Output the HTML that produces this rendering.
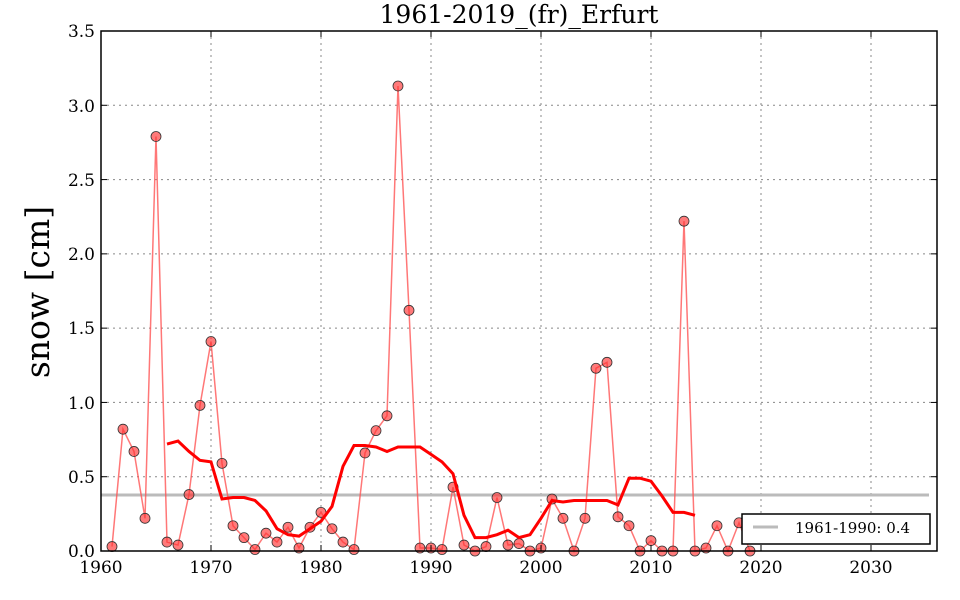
<!DOCTYPE html>
<html><head><meta charset="utf-8"><style>
html,body{margin:0;padding:0;background:#fff;width:960px;height:600px;overflow:hidden}
svg text{font-family:"DejaVu Serif","Liberation Serif",serif;fill:#000}
</style></head><body>
<svg id="s" width="960" height="600" xmlns="http://www.w3.org/2000/svg">
<rect width="960" height="600" fill="#fff"/>
<g id="grid" stroke="#888" stroke-width="1" stroke-dasharray="2,4"></g>
<g id="data"></g>
<rect x="101" y="31" width="836" height="520" fill="none" stroke="#000" stroke-width="1.5"/>
<g id="ticks" stroke="#000" stroke-width="1"></g>
<g font-size="17" text-anchor="end">
<text x="95" y="557">0.0</text><text x="95" y="483">0.5</text><text x="95" y="409">1.0</text>
<text x="95" y="334">1.5</text><text x="95" y="260">2.0</text><text x="95" y="186">2.5</text>
<text x="95" y="112">3.0</text><text x="95" y="37">3.5</text>
</g>
<g font-size="17" text-anchor="middle">
<text x="101" y="573">1960</text><text x="211" y="573">1970</text><text x="321" y="573">1980</text>
<text x="431" y="573">1990</text><text x="541" y="573">2000</text><text x="651" y="573">2010</text>
<text x="761" y="573">2020</text><text x="871" y="573">2030</text>
</g>
<text x="519" y="23" font-size="25" text-anchor="middle">1961-2019_(fr)_Erfurt</text>
<text transform="translate(49,292) rotate(-90)" font-size="33" text-anchor="middle">snow [cm]</text>
<rect x="742" y="514" width="188" height="30" fill="#fff" stroke="#000" stroke-width="1.5"/>
<line x1="753" y1="527" x2="778" y2="527" stroke="#bbb" stroke-width="3"/>
<text x="795" y="533" font-size="15">1961-1990: 0.4</text>
</svg>
<script>
var X=y=>101+11*(y-1960),Y=v=>551-148.57*v;
var g=document.getElementById('grid'),t=document.getElementById('ticks'),d=document.getElementById('data');
var ns='http://www.w3.org/2000/svg';
function el(p,n,a){var e=document.createElementNS(ns,n);for(var k in a)e.setAttribute(k,a[k]);p.appendChild(e);return e;}
for(var yr=1970;yr<=2030;yr+=10){el(g,'line',{x1:X(yr),x2:X(yr),y1:31,y2:551});el(t,'line',{x1:X(yr),x2:X(yr),y1:551,y2:545});el(t,'line',{x1:X(yr),x2:X(yr),y1:31,y2:37});}
for(var v=0.5;v<3.5;v+=0.5){el(g,'line',{x1:101,x2:937,y1:Y(v),y2:Y(v)});el(t,'line',{x1:101,x2:107,y1:Y(v),y2:Y(v)});el(t,'line',{x1:937,x2:931,y1:Y(v),y2:Y(v)});}
var vals=[0.03,0.82,0.67,0.22,2.79,0.06,0.04,0.38,0.98,1.41,0.59,0.17,0.09,0.01,0.12,0.06,0.16,0.02,0.16,0.26,0.15,0.06,0.01,0.66,0.81,0.91,3.13,1.62,0.02,0.02,0.01,0.43,0.04,0,0.03,0.36,0.04,0.05,0,0.02,0.35,0.22,0,0.22,1.23,1.27,0.23,0.17,0,0.07,0,0,2.22,0,0.02,0.17,0,0.19,0];
var rm=[0.72,0.74,0.67,0.61,0.60,0.35,0.36,0.36,0.34,0.27,0.15,0.11,0.10,0.15,0.20,0.30,0.57,0.71,0.71,0.70,0.67,0.70,0.70,0.70,0.65,0.60,0.52,0.24,0.09,0.09,0.11,0.14,0.09,0.11,0.22,0.34,0.33,0.34,0.34,0.34,0.34,0.31,0.49,0.49,0.47,0.37,0.26,0.26,0.24];
el(d,'line',{x1:101,x2:929,y1:495,y2:495,stroke:'#bbb','stroke-width':3});
el(d,'polyline',{points:vals.map((v,i)=>X(1961+i)+','+Y(v)).join(' '),fill:'none',stroke:'#ff5555','stroke-opacity':0.8,'stroke-width':1.5});
vals.forEach((v,i)=>el(d,'circle',{cx:X(1961+i),cy:Y(v),r:5,fill:'#ff3333','fill-opacity':0.65,stroke:'#333','stroke-width':0.8}));
el(d,'polyline',{points:rm.map((v,i)=>X(1966+i)+','+Y(v)).join(' '),fill:'none',stroke:'#ff0000','stroke-width':3});
</script>
</body></html>
